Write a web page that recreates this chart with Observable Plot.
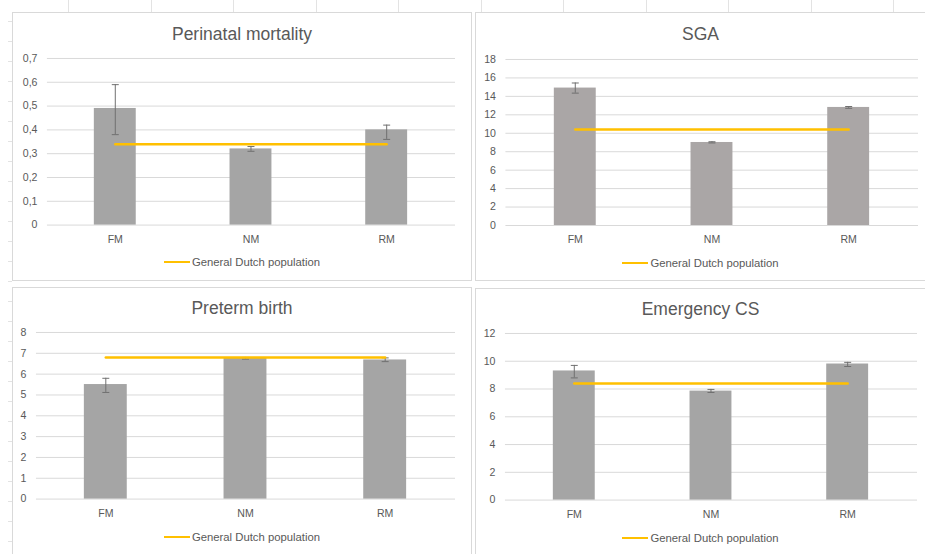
<!DOCTYPE html>
<html><head><meta charset="utf-8">
<script src="https://cdn.jsdelivr.net/npm/d3@7"></script>
<script src="https://cdn.jsdelivr.net/npm/@observablehq/plot@0.6"></script>
<style>
body{margin:0;background:#fff;font-family:"Liberation Sans",Arial,sans-serif;}
#root{position:relative;width:925px;height:554px;overflow:hidden;background:#fff;}
.panel{position:absolute;border:1px solid #d9d9d9;background:#fff;box-sizing:border-box;}
.title{position:absolute;left:0;right:0;text-align:center;font-size:17.5px;color:#595959;line-height:20px;}
.legend{position:absolute;left:0;right:0;display:flex;justify-content:center;align-items:center;font-size:11.3px;color:#595959;line-height:14px;}
.legend .sw{display:inline-block;width:26px;height:2.5px;background:#FFC000;margin-right:2px;}
.plotwrap{position:absolute;}
.deco{position:absolute;background:#e3e3e3;}
</style>
</head><body><div id="root"></div>
<script>
// ---- data ----
const groups = ["FM", "NM", "RM"];
const legendLabel = "General Dutch population";

const perinatalTitle = "Perinatal mortality";
const perinatalValues = [0.49, 0.32, 0.40];
const perinatalErrLow = [0.38, 0.31, 0.36];
const perinatalErrHigh = [0.59, 0.33, 0.42];
const perinatalGeneral = 0.34;
const perinatalTicks = [0, 0.1, 0.2, 0.3, 0.4, 0.5, 0.6, 0.7];

const sgaTitle = "SGA";
const sgaValues = [14.9, 9.0, 12.8];
const sgaErrLow = [14.35, 8.95, 12.7];
const sgaErrHigh = [15.45, 9.08, 12.9];
const sgaGeneral = 10.4;
const sgaTicks = [0, 2, 4, 6, 8, 10, 12, 14, 16, 18];

const pretermTitle = "Preterm birth";
const pretermValues = [5.5, 6.76, 6.68];
const pretermErrLow = [5.12, 6.72, 6.6];
const pretermErrHigh = [5.8, 6.8, 6.78];
const pretermGeneral = 6.8;
const pretermTicks = [0, 1, 2, 3, 4, 5, 6, 7, 8];

const emcsTitle = "Emergency CS";
const emcsValues = [9.3, 7.85, 9.8];
const emcsErrLow = [8.8, 7.75, 9.62];
const emcsErrHigh = [9.7, 7.97, 9.92];
const emcsGeneral = 8.4;
const emcsTicks = [0, 2, 4, 6, 8, 10, 12];

// ---- layout (page pixels) ----
const layouts = [
  {box:[12,12,472,281], x0:47, x1:456, yTop:58, yBot:225, titleY:33, labelY:239, legendY:262, fill:"#a5a5a5"},
  {box:[475,12,926,281], x0:505.5, x1:919, yTop:59.3, yBot:225.7, titleY:33, labelY:238, legendY:263, fill:"#aaa6a6"},
  {box:[12,287,472,555], x0:36, x1:456, yTop:332.3, yBot:499.3, titleY:307, labelY:512, legendY:537, fill:"#a5a5a5"},
  {box:[475,288,926,555], x0:505, x1:918, yTop:333.3, yBot:500.3, titleY:308, labelY:513, legendY:538, fill:"#a5a5a5"}
];

const charts = [
  {title: perinatalTitle, values: perinatalValues, lo: perinatalErrLow, hi: perinatalErrHigh, general: perinatalGeneral, ticks: perinatalTicks,
   fmt: d => d === 0 ? "0" : String(d).replace(".", ",")},
  {title: sgaTitle, values: sgaValues, lo: sgaErrLow, hi: sgaErrHigh, general: sgaGeneral, ticks: sgaTicks, fmt: d => String(d)},
  {title: pretermTitle, values: pretermValues, lo: pretermErrLow, hi: pretermErrHigh, general: pretermGeneral, ticks: pretermTicks, fmt: d => String(d)},
  {title: emcsTitle, values: emcsValues, lo: emcsErrLow, hi: emcsErrHigh, general: emcsGeneral, ticks: emcsTicks, fmt: d => String(d)}
];

const root = document.getElementById("root");

// faint spreadsheet background marks
[68,151,233,316,398,481,563,646,728,811,893].forEach(x => {
  const d = document.createElement("div"); d.className = "deco";
  Object.assign(d.style, {left: x + "px", top: "0px", width: "1px", height: "12px"}); root.appendChild(d);
});
for (let y = 21; y < 554; y += 20) {
  const d = document.createElement("div"); d.className = "deco";
  Object.assign(d.style, {left: "8px", top: y + "px", width: "4px", height: "1px"}); root.appendChild(d);
}

const capSymbol = {draw(ctx) { ctx.moveTo(-3.5, 0); ctx.lineTo(3.5, 0); }};

charts.forEach((c, i) => {
  const L = layouts[i];
  const [bl, bt, br, bb] = L.box;
  const panel = document.createElement("div");
  panel.className = "panel";
  Object.assign(panel.style, {left: bl + "px", top: bt + "px", width: (br - bl) + "px", height: (bb - bt) + "px"});
  root.appendChild(panel);

  const t = document.createElement("div");
  t.className = "title"; t.textContent = c.title;
  t.style.top = (L.titleY - bt - 10) + "px";
  panel.appendChild(t);

  const data = groups.map((g, k) => ({g, v: c.values[k], lo: c.lo[k], hi: c.hi[k]}));
  const lineData = groups.map(g => ({g, v: c.general}));

  const W = br - bl;
  const svgTop = L.yTop - 12;
  const mb = 30;
  const H = (L.yBot - svgTop) + mb;
  const ymax = c.ticks[c.ticks.length - 1];

  const plot = Plot.plot({
    width: W, height: H,
    marginLeft: L.x0 - bl, marginRight: bl + W - L.x1, marginTop: 12, marginBottom: mb,
    style: {color: "#595959", fontFamily: '"Liberation Sans", Arial, sans-serif', fontSize: "10.6px", background: "transparent", overflow: "visible"},
    x: {type: "band", domain: groups, paddingInner: 0.69, paddingOuter: 0.345, tickSize: 0, tickPadding: 10, label: null},
    y: {domain: [0, ymax], ticks: c.ticks, tickSize: 0, tickPadding: 10, tickFormat: c.fmt, label: null},
    marks: [
      Plot.ruleY(c.ticks, {stroke: "#d9d9d9", strokeWidth: 1}),
      Plot.barY(data, {x: "g", y: "v", fill: L.fill}),
      Plot.ruleX(data, {x: "g", y1: "lo", y2: "hi", stroke: "#6f6f6f", strokeWidth: 1}),
      Plot.dot(data, {x: "g", y: "hi", symbol: capSymbol, fill: "none", stroke: "#6f6f6f", strokeWidth: 1}),
      Plot.dot(data, {x: "g", y: "lo", symbol: capSymbol, fill: "none", stroke: "#6f6f6f", strokeWidth: 1}),
      Plot.lineY(lineData, {x: "g", y: "v", stroke: "#FFC000", strokeWidth: 2.5})
    ]
  });
  const wrap = document.createElement("div");
  wrap.className = "plotwrap";
  Object.assign(wrap.style, {left: "-1px", top: (svgTop - bt - 1) + "px"});
  wrap.appendChild(plot);
  panel.appendChild(wrap);

  const lg = document.createElement("div");
  lg.className = "legend";
  lg.style.top = (L.legendY - bt - 8) + "px";
  const sw = document.createElement("span"); sw.className = "sw";
  const tx = document.createElement("span"); tx.textContent = legendLabel;
  lg.appendChild(sw); lg.appendChild(tx);
  panel.appendChild(lg);
});
</script>
</body></html>
